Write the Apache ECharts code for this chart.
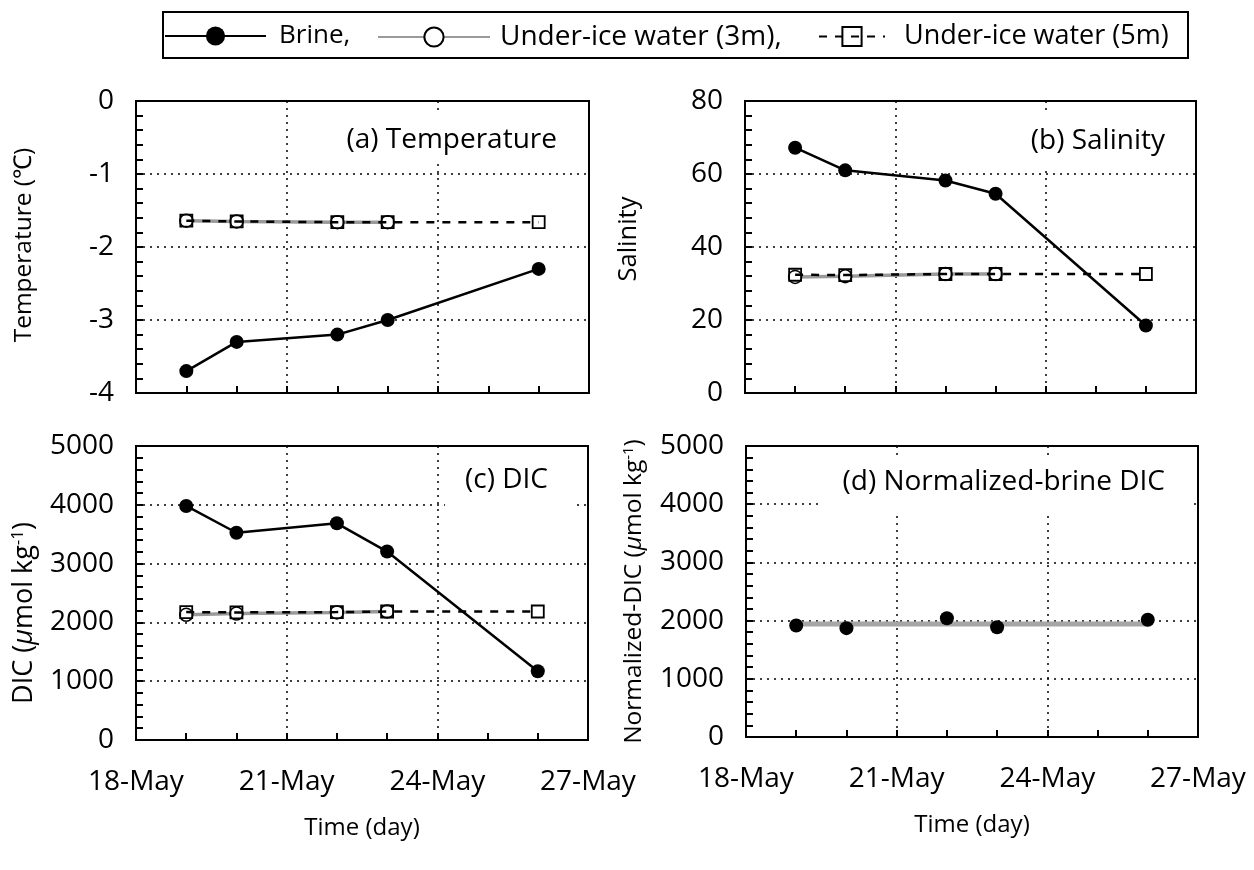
<!DOCTYPE html>
<html>
<head>
<meta charset="utf-8">
<script src="https://cdn.jsdelivr.net/npm/echarts@6/dist/echarts.min.js"></script>
<style>
html,body{margin:0;padding:0;background:#fff;}
#chart{width:1254px;height:870px;}
</style>
</head>
<body>
<div id="chart"></div>
<script>
// ---- data ----
const daysAll = [19, 20, 22, 23, 26];      // day of May
const days3m = [19, 20, 22, 23];
const xTickDays = [18, 21, 24, 27];
const xTickLabels = ['18-May', '21-May', '24-May', '27-May'];

const tempBrine = [-3.70, -3.30, -3.20, -3.00, -2.30];
const temp3m = [-1.64, -1.65, -1.66, -1.66];
const temp5m = [-1.64, -1.65, -1.66, -1.66, -1.66];

const salBrine = [67.2, 61.0, 58.2, 54.6, 18.5];
const sal3m = [31.8, 32.0, 32.6, 32.6];
const sal5m = [32.4, 32.3, 32.6, 32.6, 32.6];

const dicBrine = [3980, 3525, 3685, 3205, 1170];
const dic3m = [2130, 2150, 2170, 2185];
const dic5m = [2175, 2170, 2175, 2185, 2185];

const ndicBrine = [1915, 1870, 2040, 1885, 2015];
const ndicMeanDays = [19, 26];
const ndicMean = [1940, 1940];

const legendNames = ['Brine', 'Under-ice water (3m)', 'Under-ice water (5m)'];

// ---- helpers ----
const FONT = 'Open Sans';
const TICKLEN = 7;
const zip = (xs, ys) => xs.map((x, i) => [x, ys[i]]);

function xAxis(gi, showLabels) {
  return {
    type: 'value', gridIndex: gi, min: 18, max: 27, interval: 3,
    axisLine: { show: true, onZero: false, lineStyle: { color: '#000', width: 2 } },
    axisTick: { show: true, inside: true, length: TICKLEN, lineStyle: { color: '#000', width: 2 } },
    minorTick: { show: true, splitNumber: 3, length: TICKLEN, lineStyle: { color: '#000', width: 2 } },
    splitLine: { show: true, lineStyle: { color: '#000', width: 1.5, type: [2, 5] } },
    axisLabel: {
      show: showLabels, margin: 28, fontSize: 28, color: '#000', fontFamily: FONT,
      formatter: v => { const i = xTickDays.indexOf(v); return i >= 0 ? xTickLabels[i] : ''; }
    },
    name: showLabels ? 'Time (day)' : '', nameLocation: 'middle', nameGap: 76,
    nameTextStyle: { fontSize: 24, color: '#000', fontFamily: FONT }
  };
}
function yAxis(gi, min, max, interval, name, nameGap, nameStyle) {
  return {
    type: 'value', gridIndex: gi, min, max, interval,
    axisLine: { show: true, onZero: false, lineStyle: { color: '#000', width: 2 } },
    axisTick: { show: true, inside: true, length: TICKLEN, lineStyle: { color: '#000', width: 2 } },
    minorTick: { show: true, splitNumber: 5, length: TICKLEN, lineStyle: { color: '#000', width: 2 } },
    splitLine: { show: true, lineStyle: { color: '#000', width: 1.5, type: [2, 5] } },
    axisLabel: { margin: 22, fontSize: 28, color: '#000', fontFamily: FONT, formatter: v => String(v) },
    name, nameLocation: 'middle', nameGap, nameRotate: 90,
    nameTextStyle: Object.assign({ color: '#000', fontFamily: FONT }, nameStyle)
  };
}
function supRich(fs) {
  return {
    n: { fontSize: fs, color: '#000', fontFamily: FONT },
    i: { fontSize: fs, color: '#000', fontFamily: FONT, fontStyle: 'italic' },
    s: { fontSize: Math.round(fs * 0.62), color: '#000', fontFamily: FONT, verticalAlign: 'top', padding: [0, 0, 12, 0] }
  };
}

function brine(gi, data) {
  return {
    name: 'Brine', type: 'line', xAxisIndex: gi, yAxisIndex: gi, data,
    symbol: 'circle', symbolSize: 14, z: 5,
    lineStyle: { color: '#000', width: 2.5 }, itemStyle: { color: '#000' }
  };
}
function w3(gi, data) {
  return {
    name: 'Under-ice water (3m)', type: 'line', xAxisIndex: gi, yAxisIndex: gi, data,
    symbol: 'circle', symbolSize: 13, z: 3,
    lineStyle: { color: '#9a9a9a', width: 3.5 },
    itemStyle: { color: '#fff', borderColor: '#000', borderWidth: 1.5 }
  };
}
function w5(gi, data) {
  return {
    name: 'Under-ice water (5m)', type: 'line', xAxisIndex: gi, yAxisIndex: gi, data,
    symbol: 'rect', symbolSize: 12, z: 4,
    lineStyle: { color: '#000', width: 2.5, type: [8, 8] },
    itemStyle: { color: 'rgba(255,255,255,0)', borderColor: '#000', borderWidth: 1.8 }
  };
}

const titleStyle = { fontSize: 28, fontWeight: 'normal', color: '#000', fontFamily: FONT };
function legendItem(left, itemWidth, name, fs, gap, fmt) {
  return {
    left, top: 35 - 12, itemWidth, itemHeight: 24, selectedMode: false, padding: 0,
    data: [name], formatter: fmt,
    textStyle: { fontSize: fs, color: '#000', fontFamily: FONT, padding: [0, 0, 0, gap] }
  };
}

const option = {
  animation: false,
  backgroundColor: '#fff',
  grid: [
    { left: 136, top: 101, width: 453, height: 292, show: true, borderColor: '#000', borderWidth: 2, backgroundColor: 'transparent' },
    { left: 745, top: 101, width: 451, height: 292, show: true, borderColor: '#000', borderWidth: 2, backgroundColor: 'transparent' },
    { left: 136, top: 446, width: 452, height: 294, show: true, borderColor: '#000', borderWidth: 2, backgroundColor: 'transparent' },
    { left: 746, top: 446, width: 452, height: 291, show: true, borderColor: '#000', borderWidth: 2, backgroundColor: 'transparent' }
  ],
  title: [
    { text: '(a) Temperature', right: 679, top: 114, padding: [12, 18, 10, 14], backgroundColor: '#fff', textStyle: titleStyle },
    { text: '(b) Salinity', right: 71, top: 115, padding: [12, 18, 14, 14], backgroundColor: '#fff', textStyle: titleStyle },
    { text: '(c) DIC', right: 679, top: 454, padding: [12, 27, 14, 20], backgroundColor: '#fff', textStyle: titleStyle },
    { text: '(d) Normalized-brine DIC', right: 64, top: 456, padding: [12, 25, 18, 20], backgroundColor: '#fff', textStyle: titleStyle }
  ],
  legend: [
    legendItem(164, 101, legendNames[0], 26, 8, n => n + ','),
    legendItem(377, 112, legendNames[1], 28, 5, n => n + ','),
    legendItem(818, 66, legendNames[2], 27, 14, n => n)
  ],
  graphic: [
    { type: 'rect', shape: { x: 163, y: 12, width: 1025, height: 46 }, style: { fill: 'none', stroke: '#000', lineWidth: 2 }, z: 100 }
  ],
  xAxis: [xAxis(0, false), xAxis(1, false), xAxis(2, true), xAxis(3, true)],
  yAxis: [
    yAxis(0, -4, 0, 1, 'Temperature (℃)', 99, { fontSize: 24.5, padding: [0, 0, 0, 4] }),
    yAxis(1, 0, 80, 20, 'Salinity', 103, { fontSize: 25.5, padding: [0, 0, 0, 16] }),
    yAxis(2, 0, 5000, 1000, '{n|DIC (}{i|μ}{n|mol kg}{s|-1}{n|)}', 97, { rich: supRich(27), padding: [0, 40, 0, 0] }),
    yAxis(3, 0, 5000, 1000, '{n|Normalized-DIC (}{i|μ}{n|mol kg}{s|-1}{n|)}', 98, { rich: supRich(24.5) })
  ],
  series: [
    brine(0, zip(daysAll, tempBrine)),
    w3(0, zip(days3m, temp3m)),
    w5(0, zip(daysAll, temp5m)),
    brine(1, zip(daysAll, salBrine)),
    w3(1, zip(days3m, sal3m)),
    w5(1, zip(daysAll, sal5m)),
    brine(2, zip(daysAll, dicBrine)),
    w3(2, zip(days3m, dic3m)),
    w5(2, zip(daysAll, dic5m)),
    {
      name: 'Normalized mean', type: 'line', xAxisIndex: 3, yAxisIndex: 3,
      data: zip(ndicMeanDays, ndicMean), symbol: 'none', z: 3,
      lineStyle: { color: '#a6a6a6', width: 5 }
    },
    {
      name: 'Brine', type: 'line', xAxisIndex: 3, yAxisIndex: 3,
      data: zip(daysAll, ndicBrine), symbol: 'circle', symbolSize: 14, z: 5,
      lineStyle: { width: 0, opacity: 0 }, itemStyle: { color: '#000' }
    }
  ]
};

const chart = echarts.init(document.getElementById('chart'), null, { renderer: 'canvas' });
chart.setOption(option);
</script>
</body>
</html>
